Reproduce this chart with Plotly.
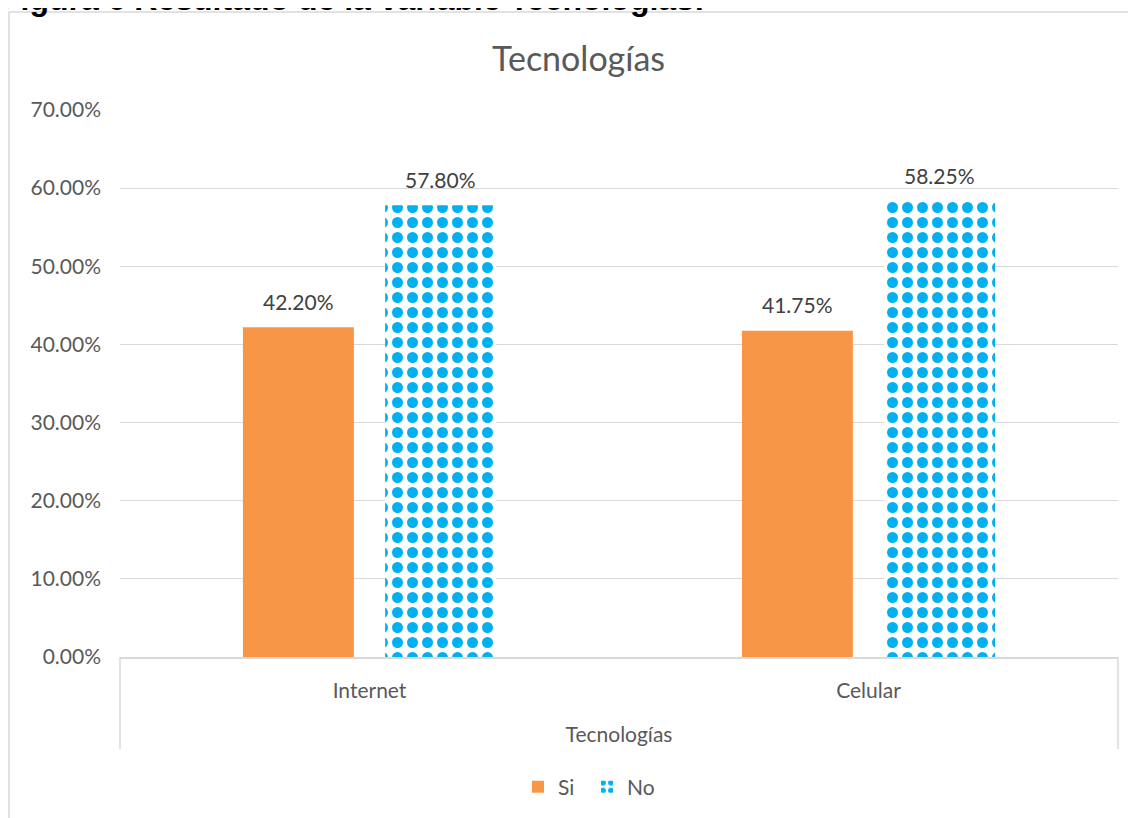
import plotly.graph_objects as go

categories = ["Internet", "Celular"]
si_values = [0.4220, 0.4175]
no_values = [0.5780, 0.5825]
series_names = ["Si", "No"]
y_ticks = [0, 0.1, 0.2, 0.3, 0.4, 0.5, 0.6, 0.7]

# The page body has an 8px margin; positions below are screen pixels.
OFF = 8
W, H = 1136 - OFF, 818 - OFF
L, R, T, B = 120 - OFF, 1136 - 1118, 110 - OFF, 818 - 657
PH = H - T - B
PW = W - L - R


def px_x(p):
    return (p - OFF - L) / PW


def px_y(p):
    return (H - B - (p - OFF)) / PH


FONT = "Lato"
TXT = "#595959"
LBL = "#404040"
GRID = "#D9D9D9"

fig = go.Figure()
fig.add_trace(go.Bar(
    x=categories, y=si_values, name=series_names[0],
    marker=dict(color="#F79646", line=dict(width=0)),
))
fig.add_trace(go.Bar(
    x=categories, y=no_values, name=series_names[1],
    marker=dict(color="white", line=dict(width=0),
                pattern=dict(shape=".", fgcolor="#00B0F0", bgcolor="white",
                             size=15, solidity=0.42, fillmode="replace")),
))

# data labels placed above each bar (value coordinates, group offset in px)
for vals, dx in ((si_values, -71), (no_values, 71)):
    for c, v in zip(categories, vals):
        fig.add_annotation(x=c, y=v, xref="x", yref="y", text=f"{v:.2%}",
                           xshift=dx, yshift=26, showarrow=False,
                           xanchor="center", yanchor="middle",
                           font=dict(family=FONT, size=21, color=LBL))

fig.update_layout(
    width=W, height=H,
    margin=dict(l=L, r=R, t=T, b=B, autoexpand=False),
    paper_bgcolor="white", plot_bgcolor="white",
    barmode="group", bargap=0.43, bargroupgap=0.22,
    font=dict(family=FONT, color=TXT, size=21),
    showlegend=True,
    legend=dict(orientation="h", x=px_x(587), xanchor="center",
                y=px_y(787), yanchor="middle",
                font=dict(family=FONT, size=21, color=TXT),
                itemwidth=30, traceorder="normal", entrywidth=24,
                entrywidthmode="pixels"),
    xaxis=dict(showline=True, linecolor=GRID, linewidth=1.5, ticks="",
               ticklabelstandoff=14, tickfont=dict(family=FONT, size=21, color=TXT),
               title=dict(text="Tecnologías", standoff=26,
                          font=dict(family=FONT, size=21, color=TXT))),
    yaxis=dict(range=[0, 0.7], tickvals=y_ticks, tickformat=".2%",
               showgrid=True, gridcolor=GRID, gridwidth=1.2, zeroline=False,
               showline=False, ticks="", ticklabelstandoff=18,
               tickfont=dict(family=FONT, size=21, color=TXT)),
)

# chart frame
fig.add_shape(type="rect", xref="paper", yref="paper",
              x0=px_x(9), x1=px_x(1170), y0=px_y(850), y1=px_y(12),
              line=dict(color=GRID, width=1.5), fillcolor="rgba(0,0,0,0)", layer="below")
# category-axis boundary lines
for xp in (120, 1118):
    fig.add_shape(type="line", xref="paper", yref="paper",
                  x0=px_x(xp), x1=px_x(xp), y0=px_y(657), y1=px_y(749),
                  line=dict(color=GRID, width=1.5))

fig.add_annotation(text="Tecnologías", xref="paper", yref="paper",
                   x=px_x(578), y=px_y(57), xanchor="center", yanchor="middle",
                   showarrow=False, font=dict(family=FONT, size=34, color=TXT))
fig.add_annotation(text="<b>Figura 6 Resultado de la variable Tecnologías:</b>",
                   xref="paper", yref="paper", x=px_x(-1), y=px_y(19),
                   xanchor="left", yanchor="bottom", showarrow=False,
                   font=dict(family="Liberation Sans", size=32, color="black"))

fig.write_html("out.html")
